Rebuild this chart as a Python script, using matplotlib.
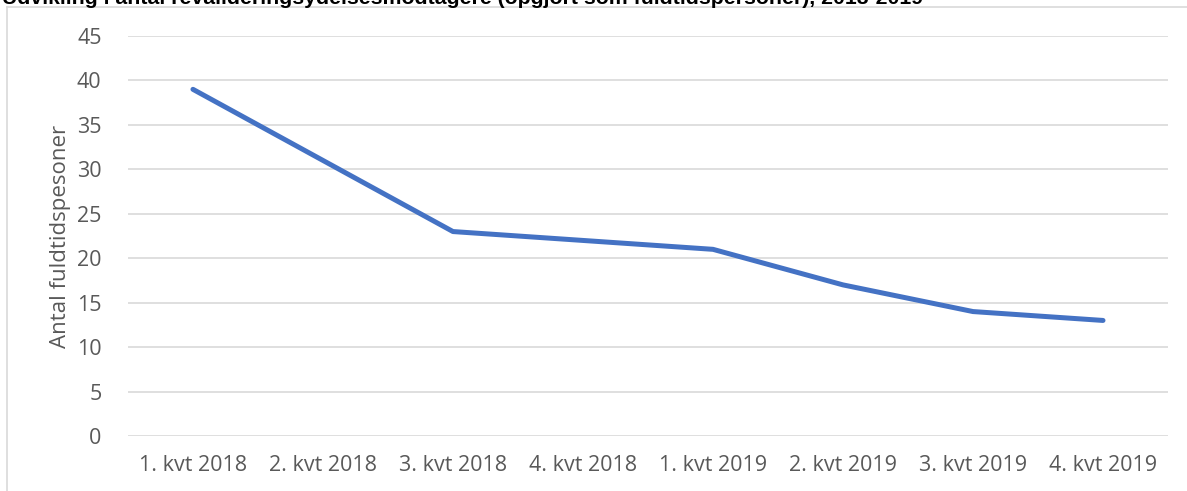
import matplotlib.pyplot as plt
from matplotlib.lines import Line2D

# Data
quarters = ["1. kvt 2018", "2. kvt 2018", "3. kvt 2018", "4. kvt 2018",
            "1. kvt 2019", "2. kvt 2019", "3. kvt 2019", "4. kvt 2019"]
persons = [39, 31, 23, 22, 21, 17, 14, 13]
yticks = [0, 5, 10, 15, 20, 25, 30, 35, 40, 45]

title = "Udvikling i antal revalideringsydelsesmodtagere (opgjort som fuldtidspersoner), 2018-2019"

fig = plt.figure(figsize=(11.87, 4.91), dpi=100)
ax = fig.add_axes([0.1078, 0.112, 0.8762, 0.8147])

x = range(len(quarters))
ax.plot(x, persons, color="#4472C4", linewidth=3.6, solid_capstyle="round")

ax.set_xlim(-0.5, len(quarters) - 0.5)
ax.set_ylim(0, 45)
ax.set_yticks(yticks)
ax.set_xticks(list(x))
ax.set_xticklabels(quarters)
ax.grid(axis="y", color="#d9d9d9", linewidth=1.2)
ax.set_axisbelow(True)
for s in ax.spines.values():
    s.set_visible(False)
ax.tick_params(length=0, labelsize=15.5, labelcolor="#595959", pad=14)
ax.tick_params(axis="y", pad=19)
for lab in ax.get_xticklabels() + ax.get_yticklabels():
    lab.set_fontfamily("Open Sans")

ax.set_ylabel("Antal fuldtidspesoner", fontsize=16, color="#595959",
              fontfamily="Open Sans", labelpad=4)

# chart frame (only top and left edge visible)
fig.add_artist(Line2D([7 / 1187, 7 / 1187], [0, 1 - 7 / 491],
                      transform=fig.transFigure, color="#d9d9d9", linewidth=1.2))
fig.add_artist(Line2D([7 / 1187, 1], [1 - 7 / 491, 1 - 7 / 491],
                      transform=fig.transFigure, color="#d9d9d9", linewidth=1.2))

# title, clipped by the top edge as in the source
fig.text(2 / 1187, 1 - 4 / 491, title, fontsize=15.3, fontweight="bold",
         fontfamily="Liberation Sans", color="black", va="baseline", ha="left")

fig.savefig("out.png", dpi=100)
